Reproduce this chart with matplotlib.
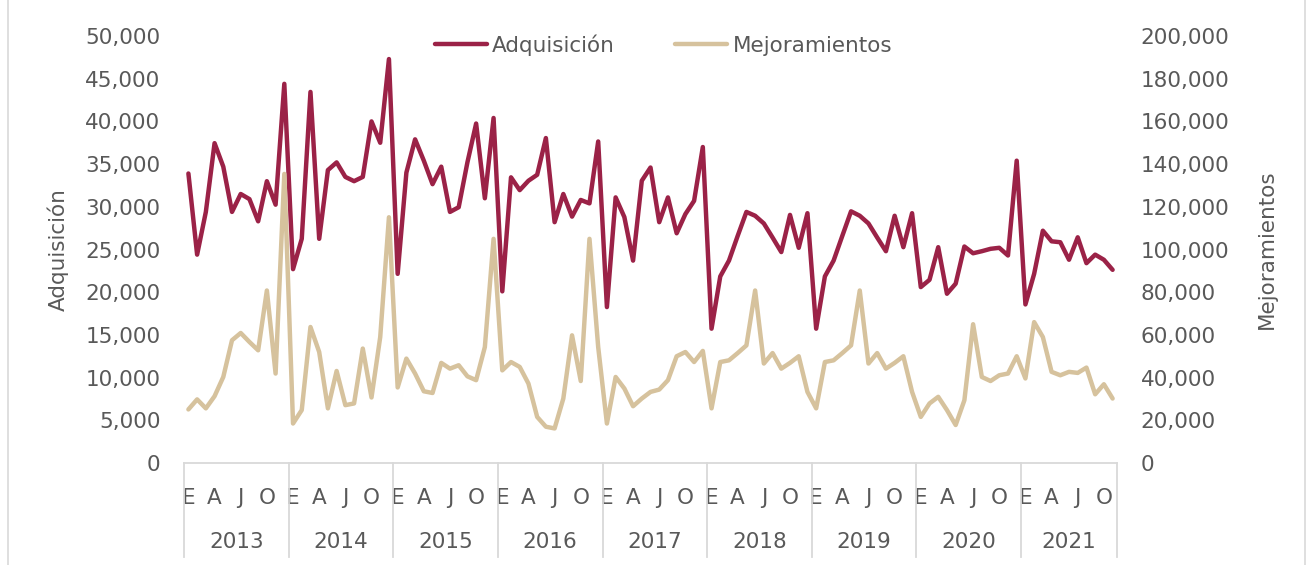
import matplotlib
matplotlib.use("Agg")
import matplotlib.pyplot as plt
import matplotlib.transforms as mtransforms
from matplotlib.ticker import FuncFormatter
from matplotlib.lines import Line2D

# datos mensuales, enero 2013 - noviembre 2021
anios = ["2013", "2014", "2015", "2016", "2017", "2018", "2019", "2020", "2021"]
meses_etiqueta = ["E", "A", "J", "O"]

adquisicion = [
    33900, 24400, 29400, 37450, 34700, 29400, 31500, 30900, 28300, 33000, 30250, 44400,
    22700, 26250, 43450, 26250, 34300, 35200, 33500, 33000, 33500, 40000, 37500, 47300,
    22150, 34000, 37900, 35400, 32650, 34700, 29400, 29950, 35200, 39750, 31000, 40400,
    20100, 33450, 31950, 33050, 33750, 38050, 28200, 31500, 28850, 30800, 30400, 37650,
    18260, 31100, 28800, 23700, 33050, 34600, 28200, 31100, 26900, 29150, 30700, 37000,
    15730, 21850, 23700, 26600, 29400, 28950, 28050, 26400, 24700, 29050, 25200, 29250,
    15730, 21850, 23700, 26600, 29470, 28950, 28050, 26400, 24800, 28950, 25270, 29250,
    20600, 21450, 25270, 19820, 21000, 25350, 24560, 24800, 25080, 25200, 24300, 35400,
    18570, 22150, 27200, 25960, 25850, 23800, 26430, 23400, 24400, 23800, 22620,
]

mejoramientos = [
    25100, 29800, 25600, 31300, 40300, 57500, 60900, 56700, 52800, 80800, 41900, 135400,
    18500, 24800, 63700, 52000, 25600, 43100, 27100, 27900, 53600, 30700, 59000, 115100,
    35400, 48900, 41900, 33600, 32800, 46900, 44200, 45800, 40600, 38800, 54300, 105000,
    43400, 47300, 45000, 37200, 21600, 17000, 16200, 30200, 59800, 38400, 105000, 54300,
    18500, 40300, 34900, 26600, 30200, 33300, 34400, 38800, 50000, 52000, 47300, 52500,
    25600, 47300, 48100, 51500, 55100, 80800, 46600, 51500, 44200, 46900, 50000, 33300,
    25600, 47300, 48100, 51500, 55100, 80800, 46600, 51500, 44200, 46900, 50000, 33300,
    21600, 27900, 31000, 24800, 17800, 29400, 65000, 40300, 38400, 41100, 41900, 50000,
    39600, 66000, 59000, 42700, 41100, 42700, 42200, 44700, 32200, 36900, 30200,
]

rojo = "#9B2247"
beige = "#D6C29D"
gris = "#595959"
gris_linea = "#D9D9D9"

plt.rcParams["font.family"] = ["DejaVu Sans"]

n = len(adquisicion)
x = list(range(n))

fig = plt.figure(figsize=(13.09, 5.65), dpi=100)
ax = fig.add_axes([0.1406, 0.1805, 0.7127, 0.7558])
ax2 = ax.twinx()

ax.plot(x, adquisicion, color=rojo, lw=3.2, solid_joinstyle="round", solid_capstyle="round", zorder=3)
ax2.plot(x, mejoramientos, color=beige, lw=3.2, solid_joinstyle="round", solid_capstyle="round", zorder=2)

ax.set_xlim(-0.5, n - 0.5)
ax.set_ylim(0, 50000)
ax2.set_ylim(0, 200000)
ax.set_yticks(range(0, 50001, 5000))
ax2.set_yticks(range(0, 200001, 20000))

fmt = FuncFormatter(lambda v, p: f"{v:,.0f}")
ax.yaxis.set_major_formatter(fmt)
ax2.yaxis.set_major_formatter(fmt)

for a in (ax, ax2):
    for s in a.spines.values():
        s.set_visible(False)
    a.tick_params(axis="y", length=0, labelsize=15.5, labelcolor=gris, pad=17)
ax.spines["bottom"].set_visible(True)
ax.spines["bottom"].set_color(gris_linea)
ax.spines["bottom"].set_linewidth(1.3)

# etiquetas de meses E A J O
pos_meses = [i for i in range(n) if i % 3 == 0]
ax.set_xticks(pos_meses)
ax.set_xticklabels([meses_etiqueta[(i % 12) // 3] for i in pos_meses])
ax.tick_params(axis="x", length=0, labelsize=15.5, labelcolor=gris, pad=18)

# años y separadores debajo del eje
trans = mtransforms.blended_transform_factory(ax.transData, ax.transAxes)
for k, anio in enumerate(anios):
    ini = k * 12 - 0.5
    fin = min(k * 12 + 12, n) - 0.5
    ax.text((ini + fin) / 2, -0.185, anio, transform=trans, ha="center", va="center",
            fontsize=15.5, color=gris)
    ax.plot([ini, ini], [0, -0.22], transform=trans, color=gris_linea, lw=1.3, clip_on=False)
ax.plot([n - 0.5, n - 0.5], [0, -0.22], transform=trans, color=gris_linea, lw=1.3, clip_on=False)

ax.set_ylabel("Adquisición", fontsize=15.5, color=gris, labelpad=12)
ax2.set_ylabel("Mejoramientos", fontsize=15.5, color=gris, labelpad=20)

# leyenda arriba al centro
handles = [Line2D([], [], color=rojo, lw=3.2, solid_capstyle="round"),
           Line2D([], [], color=beige, lw=3.2, solid_capstyle="round")]
fig.legend(handles, ["Adquisición", "Mejoramientos"], loc="center", bbox_to_anchor=(0.507, 0.92),
           ncol=2, frameon=False, fontsize=15.5, labelcolor=gris, handlelength=2.4,
           handletextpad=0.25, columnspacing=2.8)

# borde del gráfico
fig.add_artist(Line2D([8 / 1309, 8 / 1309], [0, 1], color=gris_linea, lw=1.2))
fig.add_artist(Line2D([1305 / 1309, 1305 / 1309], [0, 1], color=gris_linea, lw=1.2))

fig.savefig("out.png", dpi=100)
